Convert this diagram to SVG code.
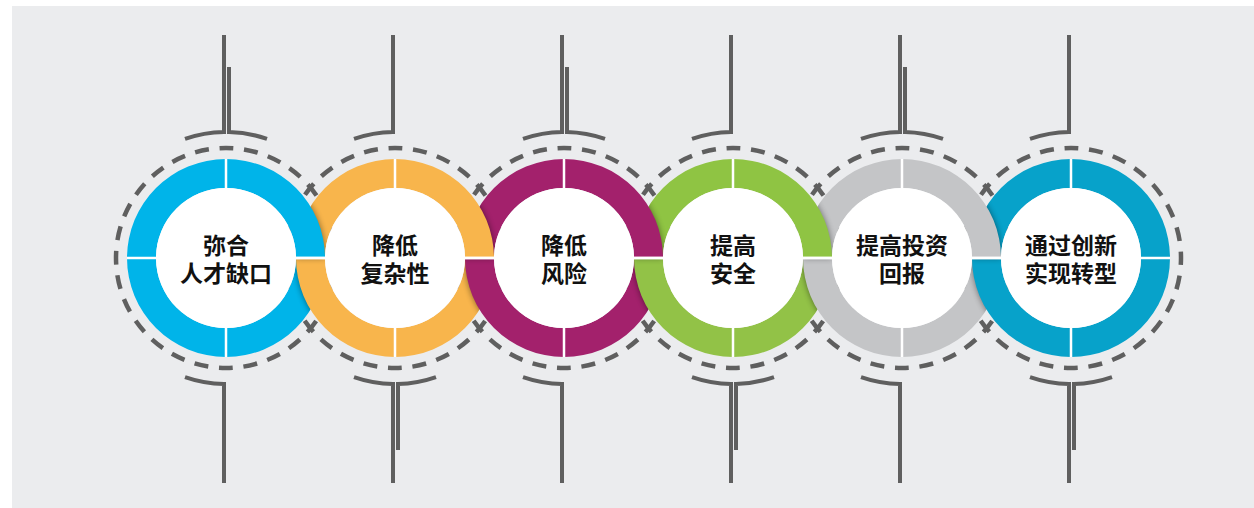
<svg xmlns="http://www.w3.org/2000/svg" xmlns:xlink="http://www.w3.org/1999/xlink" width="1254" height="508" viewBox="0 0 1254 508">
<style>
.br{fill:none;stroke:#5f5f5f;stroke-width:4}
.dash{fill:none;stroke:#5f5f5f;stroke-width:4.5;stroke-dasharray:14 10.68;stroke-dashoffset:7}
.dv{stroke:#ffffff;stroke-width:2.5}
.inner{fill:#ffffff}
.sh{fill:#000000;opacity:0.45}
.lbl{font-family:"Noto Sans CJK SC","Noto Sans",sans-serif;font-weight:bold;font-size:23px;fill:#111111;text-anchor:middle}
</style>
<defs>
<path id="up" d="M-99,0 A99,99 0 0 1 99,0 L70,0 A70,70 0 0 0 -70,0 Z"/>
<path id="lo" d="M99,0 A99,99 0 0 1 -99,0 L-70,0 A70,70 0 0 0 70,0 Z"/>
<path id="ann" clip-rule="evenodd" d="M-99,0 A99,99 0 1 0 99,0 A99,99 0 1 0 -99,0 Z M-70,0 A70,70 0 1 0 70,0 A70,70 0 1 0 -70,0 Z"/>
<filter id="blur" x="-20%" y="-40%" width="140%" height="180%"><feGaussianBlur stdDeviation="3"/></filter>
<clipPath id="c1"><use xlink:href="#ann" x="226" y="258"/></clipPath>
<clipPath id="c2"><use xlink:href="#ann" x="395" y="258"/></clipPath>
<clipPath id="c3"><use xlink:href="#ann" x="564" y="258"/></clipPath>
<clipPath id="c4"><use xlink:href="#ann" x="733" y="258"/></clipPath>
<clipPath id="c5"><use xlink:href="#ann" x="902" y="258"/></clipPath>
<clipPath id="c6"><use xlink:href="#ann" x="1071" y="258"/></clipPath>
</defs>
<rect x="0" y="0" width="1254" height="508" fill="#ffffff"/>
<rect x="12" y="6" width="1242" height="502" fill="#ebecee"/>
<g id="connectors">
<path class="br" d="M185,138.9 A126,126 0 0 1 224,132 L224,35"/>
<path class="br" d="M267,138.9 A126,126 0 0 0 229,132 L229,67"/>
<path class="br" d="M185,377.1 A126,126 0 0 0 224,384 L224,483"/>
<path class="br" d="M354,138.9 A126,126 0 0 1 393,132 L393,35"/>
<path class="br" d="M354,377.1 A126,126 0 0 0 393,384 L393,483"/>
<path class="br" d="M436,377.1 A126,126 0 0 1 398,384 L398,450"/>
<path class="br" d="M523,138.9 A126,126 0 0 1 562,132 L562,35"/>
<path class="br" d="M605,138.9 A126,126 0 0 0 567,132 L567,67"/>
<path class="br" d="M523,377.1 A126,126 0 0 0 562,384 L562,483"/>
<path class="br" d="M692,138.9 A126,126 0 0 1 731,132 L731,35"/>
<path class="br" d="M692,377.1 A126,126 0 0 0 731,384 L731,483"/>
<path class="br" d="M774,377.1 A126,126 0 0 1 736,384 L736,450"/>
<path class="br" d="M861,138.9 A126,126 0 0 1 900,132 L900,35"/>
<path class="br" d="M943,138.9 A126,126 0 0 0 905,132 L905,67"/>
<path class="br" d="M861,377.1 A126,126 0 0 0 900,384 L900,483"/>
<path class="br" d="M1030,138.9 A126,126 0 0 1 1069,132 L1069,35"/>
<path class="br" d="M1030,377.1 A126,126 0 0 0 1069,384 L1069,483"/>
<path class="br" d="M1112,377.1 A126,126 0 0 1 1074,384 L1074,450"/>
</g>
<g id="dashed-rings">
<circle class="dash" cx="226" cy="258" r="110"/>
<circle class="dash" cx="395" cy="258" r="110"/>
<circle class="dash" cx="564" cy="258" r="110"/>
<circle class="dash" cx="733" cy="258" r="110"/>
<circle class="dash" cx="902" cy="258" r="110"/>
<circle class="dash" cx="1071" cy="258" r="110"/>
</g>
<g id="rings-lower">
<use xlink:href="#lo" x="226" y="258" fill="#00b4e9"/>
<g clip-path="url(#c1)"><use xlink:href="#lo" x="395" y="258" class="sh" filter="url(#blur)"/></g>
<use xlink:href="#lo" x="395" y="258" fill="#f8b54c"/>
<g clip-path="url(#c2)"><use xlink:href="#lo" x="564" y="258" class="sh" filter="url(#blur)"/></g>
<use xlink:href="#lo" x="564" y="258" fill="#a3216c"/>
<g clip-path="url(#c3)"><use xlink:href="#lo" x="733" y="258" class="sh" filter="url(#blur)"/></g>
<use xlink:href="#lo" x="733" y="258" fill="#92c247"/>
<g clip-path="url(#c4)"><use xlink:href="#lo" x="902" y="258" class="sh" filter="url(#blur)"/></g>
<use xlink:href="#lo" x="902" y="258" fill="#c4c5c7"/>
<g clip-path="url(#c5)"><use xlink:href="#lo" x="1071" y="258" class="sh" filter="url(#blur)"/></g>
<use xlink:href="#lo" x="1071" y="258" fill="#07a2ca"/>
</g>
<g id="rings-upper">
<use xlink:href="#up" x="1071" y="258" fill="#07a2ca"/>
<g clip-path="url(#c6)"><use xlink:href="#up" x="902" y="258" class="sh" filter="url(#blur)"/></g>
<use xlink:href="#up" x="902" y="258" fill="#c4c5c7"/>
<g clip-path="url(#c5)"><use xlink:href="#up" x="733" y="258" class="sh" filter="url(#blur)"/></g>
<use xlink:href="#up" x="733" y="258" fill="#8fc443"/>
<g clip-path="url(#c4)"><use xlink:href="#up" x="564" y="258" class="sh" filter="url(#blur)"/></g>
<use xlink:href="#up" x="564" y="258" fill="#a3216c"/>
<g clip-path="url(#c3)"><use xlink:href="#up" x="395" y="258" class="sh" filter="url(#blur)"/></g>
<use xlink:href="#up" x="395" y="258" fill="#f8b54c"/>
<g clip-path="url(#c2)"><use xlink:href="#up" x="226" y="258" class="sh" filter="url(#blur)"/></g>
<use xlink:href="#up" x="226" y="258" fill="#00b4e9"/>
</g>
<g id="dividers">
<path class="dv" d="M226,159 V188 M226,328 V357 M127,258 H156 M296,258 H325"/>
<path class="dv" d="M395,159 V188 M395,328 V357 M296,258 H325 M465,258 H494"/>
<path class="dv" d="M564,159 V188 M564,328 V357 M465,258 H494 M634,258 H663"/>
<path class="dv" d="M733,159 V188 M733,328 V357 M634,258 H663 M803,258 H832"/>
<path class="dv" d="M902,159 V188 M902,328 V357 M803,258 H832 M972,258 H1001"/>
<path class="dv" d="M1071,159 V188 M1071,328 V357 M972,258 H1001 M1141,258 H1170"/>
</g>
<g id="node1"><circle class="inner" cx="226" cy="258" r="70"/><text class="lbl"><tspan x="226" y="254">弥合</tspan><tspan x="226" y="282">人才缺口</tspan></text></g>
<g id="node2"><circle class="inner" cx="395" cy="258" r="70"/><text class="lbl"><tspan x="395" y="254">降低</tspan><tspan x="395" y="282">复杂性</tspan></text></g>
<g id="node3"><circle class="inner" cx="564" cy="258" r="70"/><text class="lbl"><tspan x="564" y="254">降低</tspan><tspan x="564" y="282">风险</tspan></text></g>
<g id="node4"><circle class="inner" cx="733" cy="258" r="70"/><text class="lbl"><tspan x="733" y="254">提高</tspan><tspan x="733" y="282">安全</tspan></text></g>
<g id="node5"><circle class="inner" cx="902" cy="258" r="70"/><text class="lbl"><tspan x="902" y="254">提高投资</tspan><tspan x="902" y="282">回报</tspan></text></g>
<g id="node6"><circle class="inner" cx="1071" cy="258" r="70"/><text class="lbl"><tspan x="1071" y="254">通过创新</tspan><tspan x="1071" y="282">实现转型</tspan></text></g>
</svg>
